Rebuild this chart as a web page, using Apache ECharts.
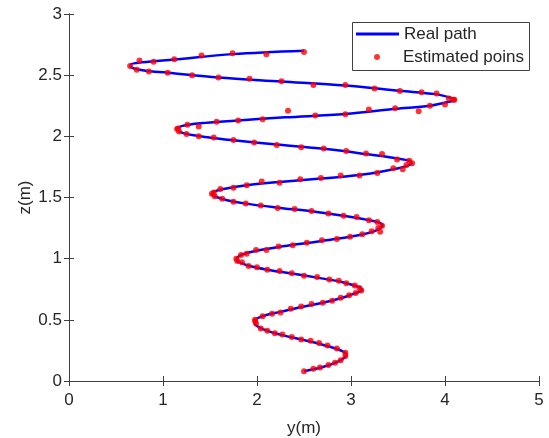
<!DOCTYPE html>
<html>
<head>
<meta charset="utf-8">
<script src="https://cdn.jsdelivr.net/npm/echarts@6/dist/echarts.min.js"></script>
<style>
  html, body { margin: 0; padding: 0; background: #fff; }
  #chart { width: 549px; height: 438px; }
</style>
</head>
<body>
<div id="chart"></div>
<script>
// Real trajectory (horizontal y, height z), in metres
const pathY = [2.50,2.70,2.85,2.93,2.955,2.93,2.85,2.66,2.47,2.27,2.11,2.02,1.98,1.975,2.01,2.10,2.25,2.47,2.70,2.89,3.02,3.09,3.12,3.10,3.03,2.90,2.64,2.37,2.11,1.92,1.83,1.785,1.79,1.84,1.97,2.23,2.53,2.85,3.12,3.25,3.32,3.335,3.30,3.19,2.92,2.58,2.22,1.88,1.68,1.56,1.52,1.55,1.66,1.89,2.24,2.68,3.09,3.38,3.56,3.645,3.62,3.50,3.16,2.71,2.21,1.75,1.45,1.25,1.16,1.155,1.24,1.45,1.80,2.30,2.94,3.47,3.84,4.03,4.10,4.05,3.90,3.52,2.94,2.26,1.59,1.05,0.80,0.66,0.655,0.78,1.12,1.74,2.50];
const pathZ = [0.08,0.115,0.155,0.19,0.215,0.235,0.262,0.305,0.34,0.375,0.41,0.44,0.465,0.49,0.515,0.54,0.565,0.605,0.64,0.677,0.71,0.73,0.745,0.762,0.782,0.81,0.845,0.878,0.91,0.94,0.965,0.99,1.01,1.033,1.06,1.095,1.128,1.162,1.198,1.225,1.255,1.272,1.295,1.315,1.35,1.387,1.417,1.45,1.478,1.506,1.528,1.55,1.572,1.60,1.627,1.655,1.684,1.72,1.75,1.78,1.80,1.818,1.855,1.898,1.933,1.968,1.995,2.02,2.045,2.065,2.09,2.11,2.13,2.155,2.183,2.225,2.25,2.28,2.30,2.318,2.345,2.372,2.415,2.448,2.48,2.52,2.538,2.565,2.585,2.605,2.628,2.672,2.70];

// Estimated positions
const estY = [2.50,2.60,2.67,2.76,2.83,2.89,2.94,
  2.94,2.85,2.75,2.66,2.57,2.47,2.37,2.27,2.19,2.11,2.04,1.99,1.98,1.98,2.06,
  2.16,2.25,2.36,2.47,2.58,2.70,2.80,2.89,2.98,3.05,3.11,
  3.09,3.04,2.95,2.87,2.77,2.64,2.50,2.37,2.24,2.11,2.00,1.91,1.84,1.79,1.78,
  1.83,1.89,1.99,2.10,2.23,2.38,2.53,2.69,2.85,2.99,3.12,3.22,3.31,3.29,3.33,
  3.28,3.19,3.06,2.92,2.76,2.58,2.40,2.22,2.04,1.88,1.75,1.63,1.55,1.52,
  1.54,1.61,1.75,1.89,2.05,2.24,2.46,2.68,2.89,3.09,3.28,3.45,3.55,3.59,3.65,
  3.62,3.49,3.33,3.16,2.95,2.71,2.47,2.21,1.97,1.75,1.54,1.38,1.25,1.17,1.15,
  1.16,1.26,1.38,1.57,1.80,2.06,2.33,2.62,2.94,3.19,3.47,3.72,3.84,4.00,4.09,4.10,
  4.04,3.91,3.75,3.52,3.25,2.94,2.60,2.26,1.92,1.59,1.31,1.05,0.85,0.72,0.65,
  0.75,0.90,1.12,1.41,1.74,2.10,2.50];
const estZ = [0.08,0.10,0.11,0.13,0.15,0.17,0.205,
  0.23,0.265,0.29,0.31,0.33,0.34,0.36,0.38,0.39,0.41,0.43,0.47,0.49,0.50,0.53,
  0.55,0.56,0.59,0.61,0.63,0.64,0.655,0.68,0.70,0.72,0.74,
  0.76,0.78,0.80,0.82,0.83,0.85,0.86,0.88,0.90,0.91,0.93,0.94,0.97,0.98,1.00,
  1.03,1.04,1.07,1.07,1.10,1.11,1.13,1.15,1.16,1.18,1.20,1.225,1.22,1.25,1.27,
  1.30,1.315,1.34,1.35,1.37,1.39,1.405,1.415,1.435,1.45,1.465,1.49,1.51,1.53,
  1.54,1.57,1.58,1.60,1.63,1.62,1.65,1.66,1.68,1.68,1.70,1.74,1.73,1.765,1.78,
  1.80,1.81,1.855,1.86,1.88,1.90,1.91,1.93,1.95,1.97,1.99,2.00,2.02,2.04,2.06,
  2.065,2.095,2.08,2.12,2.13,2.14,2.21,2.17,2.18,2.22,2.23,2.205,2.25,2.26,2.30,2.30,
  2.31,2.35,2.36,2.37,2.39,2.42,2.42,2.45,2.47,2.48,2.50,2.52,2.53,2.545,2.575,
  2.62,2.61,2.63,2.66,2.68,2.67,2.69];

const xTicks = { min: 0, max: 5, step: 1 };
const zTicks = { min: 0, max: 3, step: 0.5 };

const FONT = '"Liberation Sans", Arial, Helvetica, sans-serif';
const AX = '#404040';
const TXT = '#262626';

const pathData = pathY.map((v, i) => [v, pathZ[i]]);
const estData = estY.map((v, i) => [v, estZ[i]]);

const frameAxis = {
  axisLine: { show: true, lineStyle: { color: AX, width: 1 } },
  axisTick: { show: true, inside: true, length: 5, lineStyle: { color: AX } },
  splitLine: { show: false }
};

const chart = echarts.init(document.getElementById('chart'), null, { renderer: 'canvas' });
chart.setOption({
  animation: false,
  backgroundColor: '#fff',
  textStyle: { fontFamily: FONT },
  grid: { left: 69, right: 10, top: 14, bottom: 57, containLabel: false, outerBoundsMode: 'none' },
  xAxis: [
    Object.assign({
      type: 'value', position: 'bottom',
      min: xTicks.min, max: xTicks.max, interval: xTicks.step,
      name: 'y(m)', nameLocation: 'middle', nameGap: 39, nameMoveOverlap: false,
      nameTextStyle: { fontFamily: FONT, fontSize: 17, color: TXT },
      axisLabel: { fontFamily: FONT, fontSize: 17, color: TXT, margin: 11 }
    }, frameAxis),
    Object.assign({
      type: 'value', position: 'top',
      min: xTicks.min, max: xTicks.max, interval: xTicks.step,
      axisLabel: { show: false }
    }, frameAxis)
  ],
  yAxis: [
    Object.assign({
      type: 'value', position: 'left',
      min: zTicks.min, max: zTicks.max, interval: zTicks.step,
      name: 'z(m)', nameLocation: 'middle', nameGap: 35, nameRotate: 90, nameMoveOverlap: false,
      nameTextStyle: { fontFamily: FONT, fontSize: 17, color: TXT },
      axisLabel: { fontFamily: FONT, fontSize: 17, color: TXT, margin: 7 }
    }, frameAxis),
    Object.assign({
      type: 'value', position: 'right',
      min: zTicks.min, max: zTicks.max, interval: zTicks.step,
      axisLabel: { show: false }
    }, frameAxis)
  ],
  graphic: [{
    type: 'rect', z: 3,
    shape: { x: 352.5, y: 22.5, width: 177, height: 48 },
    style: { fill: '#fff', stroke: AX, lineWidth: 1 }
  }],
  legend: [
    {
      data: [{ name: 'Real path', icon: 'rect' }], left: 356, top: 25.5, padding: 0,
      itemWidth: 43, itemHeight: 3, itemGap: 0, z: 5,
      textStyle: { fontFamily: FONT, fontSize: 17, color: TXT }
    },
    {
      data: [{ name: 'Estimated poins', icon: 'circle' }], left: 374, top: 48.5, padding: 0,
      itemWidth: 6, itemHeight: 6, itemGap: 0, z: 5,
      textStyle: { fontFamily: FONT, fontSize: 17, color: TXT, padding: [0, 0, 0, 18] }
    }
  ],
  series: [
    {
      name: 'Real path', type: 'line', data: pathData,
      smooth: 0.35, symbol: 'none', showSymbol: false,
      lineStyle: { color: '#0000ff', width: 2.5 },
      itemStyle: { color: '#0000ff' },
      z: 2
    },
    {
      name: 'Estimated poins', type: 'scatter', data: estData,
      symbol: 'circle', symbolSize: 6,
      itemStyle: { color: '#ff0000' },
      z: 3
    }
  ]
});
</script>
</body>
</html>
